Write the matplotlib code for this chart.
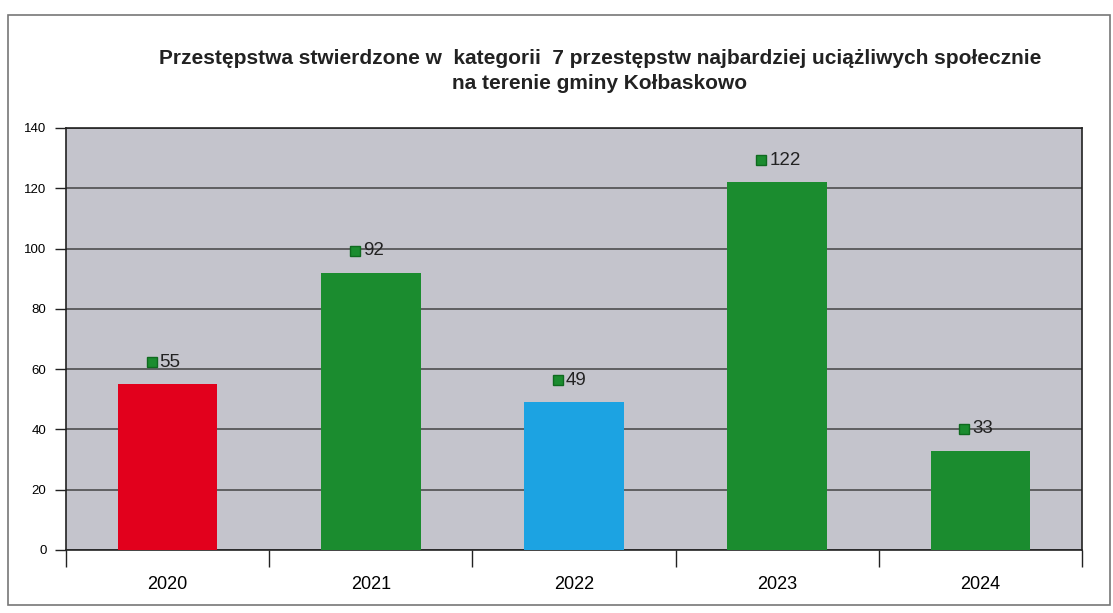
import matplotlib
matplotlib.use("Agg")
import matplotlib.pyplot as plt
import matplotlib.transforms as mtransforms
from matplotlib.patches import Rectangle

years = ["2020", "2021", "2022", "2023", "2024"]
values = [55, 92, 49, 122, 33]
bar_colors = ["#e2001c", "#1b8c2f", "#1ca3e2", "#1b8c2f", "#1b8c2f"]
yticks = [0, 20, 40, 60, 80, 100, 120, 140]
title = ("Przestępstwa stwierdzone w  kategorii  7 przestępstw najbardziej uciążliwych społecznie\n"
         "na terenie gminy Kołbaskowo")

plt.rcParams["font.family"] = ["Liberation Sans", "DejaVu Sans"]

fig = plt.figure(figsize=(11.13, 6.13), dpi=100)
fig.patch.set_facecolor("white")

# outer frame
fig.add_artist(Rectangle((8/1113, 8/613), 1102/1113, 590/613, transform=fig.transFigure,
                         fill=False, edgecolor="#777777", linewidth=1.2))

ax = fig.add_axes([66/1113, 63/613, 1016/1113, 422/613])
ax.set_facecolor("#c4c4cc")
x = list(range(len(years)))
ax.bar(x, values, width=0.49, color=bar_colors, zorder=3)
ax.set_xlim(-0.5, len(years) - 0.5)
ax.set_ylim(0, 140)
ax.set_yticks(yticks)
ax.set_yticklabels([str(t) for t in yticks], fontsize=9.5)
ax.yaxis.grid(True, color="#444444", linewidth=1.1, zorder=1)
ax.set_axisbelow(True)

ax.set_xticks([i - 0.5 for i in range(len(years) + 1)])
ax.set_xticklabels([])
ax.set_xticks(x, minor=True)
ax.set_xticklabels(years, minor=True, fontsize=13)
ax.tick_params(axis="x", which="minor", length=0, pad=19)
ax.tick_params(axis="x", which="major", length=12, width=1, color="#222222", direction="out")
ax.tick_params(axis="y", length=8, width=1, color="#222222", direction="out", pad=6)

for s in ["left", "bottom", "right", "top"]:
    ax.spines[s].set_color("#222222")
    ax.spines[s].set_linewidth(1.2)

offset = mtransforms.ScaledTranslation(-16/100, 22/100, fig.dpi_scale_trans)
for i, v in enumerate(values):
    ax.plot([i], [v], linestyle="none", marker="s", markersize=7.5, color="#1b8c2f",
            markeredgecolor="#0f6a1f", transform=ax.transData + offset, zorder=4,
            clip_on=False)
    ax.annotate(str(v), xy=(i, v), xytext=(-8, 22), textcoords="offset pixels",
                ha="left", va="center", fontsize=13.5, color="#222222", zorder=5)

fig.text(0.539, 0.884, title, ha="center", va="center", fontsize=15,
         fontweight="bold", color="#222222", linespacing=1.45)

fig.savefig("out.png", dpi=100)
